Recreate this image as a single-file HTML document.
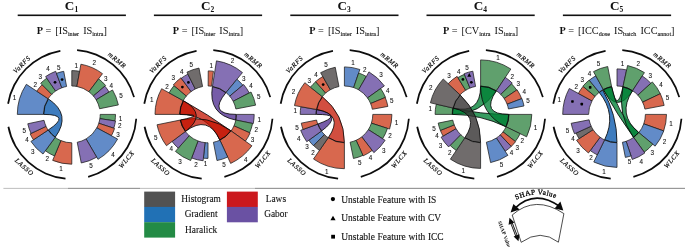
<!DOCTYPE html>
<html><head><meta charset="utf-8"><title>Figure</title>
<style>
html,body{margin:0;padding:0;background:#fff;}
body{width:685px;height:247px;overflow:hidden;}
svg{display:block;}
#w{will-change:transform;width:685px;height:247px;}
text{font-family:"Liberation Serif",serif;fill:#111;}
.n{font-family:"Liberation Sans",sans-serif;font-size:6.3px;text-anchor:middle;fill:#111;stroke:#111;stroke-width:0.08px;}
.g{font-style:italic;font-size:6.7px;letter-spacing:0.7px;text-anchor:middle;fill:#000;stroke:#000;stroke-width:0.16px;}
.t{font-weight:bold;font-size:13.2px;}
.e{font-size:10.3px;word-spacing:1.5px;}
.l{font-size:9.4px;text-anchor:middle;stroke:#111;stroke-width:0.1px;}
.u{font-size:9.45px;word-spacing:0.3px;stroke:#111;stroke-width:0.12px;}
</style></head><body><div id="w">
<svg width="685" height="247" viewBox="0 0 685 247">
<rect width="685" height="247" fill="#fff"/>
<g>
<text class="t" x="71.5" y="9.7" text-anchor="middle">C<tspan font-size="7.5" dy="1.8">1</tspan></text>
<rect x="17.7" y="14.5" width="108.2" height="1.6" fill="#111"/>
<text class="e" x="71.8" y="33.8" text-anchor="middle"><tspan font-weight="bold">P</tspan><tspan dx="-1.6"> </tspan>= [IS<tspan font-size="6.1" dy="1.7" stroke="#111" stroke-width="0.12">inter</tspan><tspan dy="-1.7" font-size="1">&#8203;</tspan> IS<tspan font-size="6.1" dy="1.7" stroke="#111" stroke-width="0.12">intra</tspan><tspan dy="-1.7" font-size="1">&#8203;</tspan>]</text>
<path d="M43.4 114.4L17.3 114.4A54.5 54.5 0 0 1 26.35 84.32L48.12 98.72A28.4 28.4 0 0 0 43.4 114.4Z" fill="#628bc8" stroke="#1c1c1c" stroke-width="0.75" stroke-linejoin="miter"/>
<path d="M48.12 98.72L36.78 91.22A42 42 0 0 1 42.1 84.7L51.72 94.32A28.4 28.4 0 0 0 48.12 98.72Z" fill="#d8684e" stroke="#1c1c1c" stroke-width="0.75" stroke-linejoin="miter"/>
<path d="M51.72 94.32L40.69 83.29A44 44 0 0 1 46.75 78.23L55.63 91.05A28.4 28.4 0 0 0 51.72 94.32Z" fill="#60a06d" stroke="#1c1c1c" stroke-width="0.75" stroke-linejoin="miter"/>
<path d="M55.63 91.05L45.61 76.58A46 46 0 0 1 55.69 71.31L61.85 87.8A28.4 28.4 0 0 0 55.63 91.05Z" fill="#8570b4" stroke="#1c1c1c" stroke-width="0.75" stroke-linejoin="miter"/>
<path d="M61.85 87.8L56.46 73.37A43.8 43.8 0 0 1 63.74 71.35L66.58 86.48A28.4 28.4 0 0 0 61.85 87.8Z" fill="#628bc8" stroke="#1c1c1c" stroke-width="0.75" stroke-linejoin="miter"/>
<path d="M71.8 86L71.8 70.6A43.8 43.8 0 0 1 79.63 71.31L76.88 86.46A28.4 28.4 0 0 0 71.8 86Z" fill="#706c6c" stroke="#1c1c1c" stroke-width="0.75" stroke-linejoin="miter"/>
<path d="M76.88 86.46L80.92 64.22A51 51 0 0 1 102.49 73.67L88.89 91.72A28.4 28.4 0 0 0 76.88 86.46Z" fill="#d8684e" stroke="#1c1c1c" stroke-width="0.75" stroke-linejoin="miter"/>
<path d="M88.89 91.72L98.58 78.86A44.5 44.5 0 0 1 105.64 85.5L93.4 95.96A28.4 28.4 0 0 0 88.89 91.72Z" fill="#60a06d" stroke="#1c1c1c" stroke-width="0.75" stroke-linejoin="miter"/>
<path d="M93.4 95.96L104.88 86.15A43.5 43.5 0 0 1 109.09 92L96.14 99.77A28.4 28.4 0 0 0 93.4 95.96Z" fill="#8570b4" stroke="#1c1c1c" stroke-width="0.75" stroke-linejoin="miter"/>
<path d="M96.14 99.77L112.52 89.94A47.5 47.5 0 0 1 118.35 104.93L99.63 108.74A28.4 28.4 0 0 0 96.14 99.77Z" fill="#60a06d" stroke="#1c1c1c" stroke-width="0.75" stroke-linejoin="miter"/>
<path d="M100.2 114.4L115.5 114.4A43.7 43.7 0 0 1 115.01 120.93L99.88 118.65A28.4 28.4 0 0 0 100.2 114.4Z" fill="#60a06d" stroke="#1c1c1c" stroke-width="0.75" stroke-linejoin="miter"/>
<path d="M99.88 118.65L115.5 121.01A44.2 44.2 0 0 1 113.79 128.21L98.78 123.27A28.4 28.4 0 0 0 99.88 118.65Z" fill="#8570b4" stroke="#1c1c1c" stroke-width="0.75" stroke-linejoin="miter"/>
<path d="M98.78 123.27L114.55 128.46A45 45 0 0 1 111.42 135.73L96.81 127.86A28.4 28.4 0 0 0 98.78 123.27Z" fill="#d8684e" stroke="#1c1c1c" stroke-width="0.75" stroke-linejoin="miter"/>
<path d="M96.81 127.86L117.58 139.05A52 52 0 0 1 97.96 159.34L86.09 138.95A28.4 28.4 0 0 0 96.81 127.86Z" fill="#628bc8" stroke="#1c1c1c" stroke-width="0.75" stroke-linejoin="miter"/>
<path d="M86.09 138.95L96.7 157.18A49.5 49.5 0 0 1 81.25 162.99L77.22 142.28A28.4 28.4 0 0 0 86.09 138.95Z" fill="#8570b4" stroke="#1c1c1c" stroke-width="0.75" stroke-linejoin="miter"/>
<path d="M71.8 142.8L71.8 164.2A49.8 49.8 0 0 1 52.66 160.38L60.89 140.62A28.4 28.4 0 0 0 71.8 142.8Z" fill="#d8684e" stroke="#1c1c1c" stroke-width="0.75" stroke-linejoin="miter"/>
<path d="M60.89 140.62L54.51 155.94A45 45 0 0 1 45.35 150.81L55.11 137.38A28.4 28.4 0 0 0 60.89 140.62Z" fill="#60a06d" stroke="#1c1c1c" stroke-width="0.75" stroke-linejoin="miter"/>
<path d="M55.11 137.38L43 154.04A49 49 0 0 1 30.94 141.44L48.12 130.08A28.4 28.4 0 0 0 55.11 137.38Z" fill="#628bc8" stroke="#1c1c1c" stroke-width="0.75" stroke-linejoin="miter"/>
<path d="M48.12 130.08L33.44 139.79A46 46 0 0 1 30.11 133.84L46.06 126.4A28.4 28.4 0 0 0 48.12 130.08Z" fill="#d8684e" stroke="#1c1c1c" stroke-width="0.75" stroke-linejoin="miter"/>
<path d="M46.06 126.4L31.02 133.42A45 45 0 0 1 27.78 123.76L44.02 120.3A28.4 28.4 0 0 0 46.06 126.4Z" fill="#8570b4" stroke="#1c1c1c" stroke-width="0.75" stroke-linejoin="miter"/>
<path d="M43.7 114.4A28.1 28.1 0 0 1 48.37 98.89Q71.8 114.4 55.28 137.13A28.1 28.1 0 0 1 48.37 129.91Q71.8 114.4 43.7 114.4Z" fill="#0e5bae" fill-opacity="0.8" stroke="#0a0a0a" stroke-width="0.85" stroke-linejoin="round"/>
<text class="n" x="14.63" y="99.64">1</text>
<text class="n" x="35.25" y="86.99">2</text>
<text class="n" x="40.27" y="79.08">3</text>
<text class="n" x="48.08" y="71.48">4</text>
<circle cx="55.03" cy="82.32" r="1.38" fill="#000"/>
<text class="n" x="58.66" y="69.64">5</text>
<circle cx="62.1" cy="79.53" r="1.38" fill="#000"/>
<text class="n" x="76.2" y="68.05">1</text>
<text class="n" x="94.34" y="65.37">2</text>
<text class="n" x="105.85" y="80.65">3</text>
<text class="n" x="111.32" y="88.4">4</text>
<text class="n" x="120.92" y="97.75">5</text>
<text class="n" x="120.56" y="120.52">1</text>
<text class="n" x="119.86" y="128.3">2</text>
<text class="n" x="117.92" y="136.67">3</text>
<text class="n" x="112.91" y="156.62">4</text>
<text class="n" x="91.05" y="168.05">5</text>
<text class="n" x="61.02" y="170.78">1</text>
<text class="n" x="47.23" y="160.63">2</text>
<text class="n" x="32.65" y="154.33">3</text>
<text class="n" x="27.13" y="141.87">4</text>
<text class="n" x="24.19" y="132.78">5</text>
<path d="M8.95 103.88L7.22 103.59A65.47 65.47 0 0 1 60.21 49.96L60.52 51.68A63.72 63.72 0 0 0 8.95 103.88Z" fill="#0d0d0d"/>
<path d="M77.02 50.89L77.16 49.15A65.47 65.47 0 0 1 134.89 96.9L133.21 97.37A63.72 63.72 0 0 0 77.02 50.89Z" fill="#0d0d0d"/>
<path d="M135.38 118.73L137.12 118.85A65.47 65.47 0 0 1 88.41 177.73L87.97 176.04A63.72 63.72 0 0 0 135.38 118.73Z" fill="#0d0d0d"/>
<path d="M65.58 177.82L65.41 179.56A65.47 65.47 0 0 1 7.53 126.89L9.25 126.56A63.72 63.72 0 0 0 65.58 177.82Z" fill="#0d0d0d"/>
<text class="g" transform="translate(21.55 64.67) rotate(314.7)" x="0.35" y="2.3">VaRFS</text>
<text class="g" transform="translate(116.87 59.92) rotate(399.6)" x="0.35" y="2.3">mRMR</text>
<text class="g" transform="translate(126.28 159.47) rotate(-50.4)" x="0.35" y="2.3">WLCX</text>
<text class="g" transform="translate(24.22 166.69) rotate(42.3)" x="0.35" y="2.3">LASSO</text>
</g>
<g>
<text class="t" x="207.7" y="9.7" text-anchor="middle">C<tspan font-size="7.5" dy="1.8">2</tspan></text>
<rect x="153.9" y="14.5" width="108.2" height="1.6" fill="#111"/>
<text class="e" x="208" y="33.8" text-anchor="middle"><tspan font-weight="bold">P</tspan><tspan dx="-1.6"> </tspan>= [IS<tspan font-size="6.1" dy="1.7" stroke="#111" stroke-width="0.12">inter</tspan><tspan dy="-1.7" font-size="1">&#8203;</tspan> IS<tspan font-size="6.1" dy="1.7" stroke="#111" stroke-width="0.12">intra</tspan><tspan dy="-1.7" font-size="1">&#8203;</tspan>]</text>
<path d="M179.6 114.4L155 114.4A53 53 0 0 1 161.65 88.71L183.16 100.63A28.4 28.4 0 0 0 179.6 114.4Z" fill="#d8684e" stroke="#1c1c1c" stroke-width="0.75" stroke-linejoin="miter"/>
<path d="M183.16 100.63L169.08 92.83A44.5 44.5 0 0 1 174.06 85.62L186.34 96.03A28.4 28.4 0 0 0 183.16 100.63Z" fill="#60a06d" stroke="#1c1c1c" stroke-width="0.75" stroke-linejoin="miter"/>
<path d="M186.34 96.03L173.3 84.97A45.5 45.5 0 0 1 180.94 77.82L191.11 91.57A28.4 28.4 0 0 0 186.34 96.03Z" fill="#d8684e" stroke="#1c1c1c" stroke-width="0.75" stroke-linejoin="miter"/>
<path d="M191.11 91.57L181.23 78.23A45 45 0 0 1 187.92 74.13L195.33 88.98A28.4 28.4 0 0 0 191.11 91.57Z" fill="#8570b4" stroke="#1c1c1c" stroke-width="0.75" stroke-linejoin="miter"/>
<path d="M195.33 88.98L186.94 72.16A47.2 47.2 0 0 1 198.99 68.07L202.58 86.52A28.4 28.4 0 0 0 195.33 88.98Z" fill="#706c6c" stroke="#1c1c1c" stroke-width="0.75" stroke-linejoin="miter"/>
<path d="M208.15 86L208.23 70.9A43.5 43.5 0 0 1 213.45 71.24L211.56 86.22A28.4 28.4 0 0 0 208.15 86Z" fill="#d8684e" stroke="#1c1c1c" stroke-width="0.75" stroke-linejoin="miter"/>
<path d="M212.44 86.35L216.48 60.87A54.2 54.2 0 0 1 242.48 72.58L226.06 92.49A28.4 28.4 0 0 0 212.44 86.35Z" fill="#8570b4" stroke="#1c1c1c" stroke-width="0.75" stroke-linejoin="miter"/>
<path d="M226.06 92.49L236.94 79.29A45.5 45.5 0 0 1 242.86 85.15L229.76 96.14A28.4 28.4 0 0 0 226.06 92.49Z" fill="#628bc8" stroke="#1c1c1c" stroke-width="0.75" stroke-linejoin="miter"/>
<path d="M229.76 96.14L243.62 84.51A46.5 46.5 0 0 1 249.25 92.93L233.19 101.29A28.4 28.4 0 0 0 229.76 96.14Z" fill="#8570b4" stroke="#1c1c1c" stroke-width="0.75" stroke-linejoin="miter"/>
<path d="M233.19 101.29L251.02 92.01A48.5 48.5 0 0 1 255.61 105.15L235.88 108.98A28.4 28.4 0 0 0 233.19 101.29Z" fill="#60a06d" stroke="#1c1c1c" stroke-width="0.75" stroke-linejoin="miter"/>
<path d="M236.4 114.4L254.2 114.4A46.2 46.2 0 0 1 253.27 123.61L235.83 120.06A28.4 28.4 0 0 0 236.4 114.4Z" fill="#8570b4" stroke="#1c1c1c" stroke-width="0.75" stroke-linejoin="miter"/>
<path d="M235.83 120.06L252.59 123.47A45.5 45.5 0 0 1 249.63 132.76L233.98 125.86A28.4 28.4 0 0 0 235.83 120.06Z" fill="#60a06d" stroke="#1c1c1c" stroke-width="0.75" stroke-linejoin="miter"/>
<path d="M233.98 125.86L250.09 132.96A46 46 0 0 1 245.4 141.18L231.09 130.93A28.4 28.4 0 0 0 233.98 125.86Z" fill="#d8684e" stroke="#1c1c1c" stroke-width="0.75" stroke-linejoin="miter"/>
<path d="M231.09 130.93L251.91 145.83A54 54 0 0 1 230.65 163.42L219.91 140.18A28.4 28.4 0 0 0 231.09 130.93Z" fill="#d8684e" stroke="#1c1c1c" stroke-width="0.75" stroke-linejoin="miter"/>
<path d="M219.91 140.18L227.71 157.07A47 47 0 0 1 216.97 160.54L213.42 142.28A28.4 28.4 0 0 0 219.91 140.18Z" fill="#628bc8" stroke="#1c1c1c" stroke-width="0.75" stroke-linejoin="miter"/>
<path d="M208 142.8L208 158.4A44 44 0 0 1 203.4 158.16L205.03 142.64A28.4 28.4 0 0 0 208 142.8Z" fill="#628bc8" stroke="#1c1c1c" stroke-width="0.75" stroke-linejoin="miter"/>
<path d="M205.03 142.64L203.13 160.74A46.6 46.6 0 0 1 191.6 158.02L198.01 140.98A28.4 28.4 0 0 0 205.03 142.64Z" fill="#8570b4" stroke="#1c1c1c" stroke-width="0.75" stroke-linejoin="miter"/>
<path d="M198.01 140.98L190.65 160.55A49.3 49.3 0 0 1 175.4 151.38L189.22 135.7A28.4 28.4 0 0 0 198.01 140.98Z" fill="#60a06d" stroke="#1c1c1c" stroke-width="0.75" stroke-linejoin="miter"/>
<path d="M189.22 135.7L178.24 148.15A45 45 0 0 1 172.06 141.48L185.32 131.49A28.4 28.4 0 0 0 189.22 135.7Z" fill="#8570b4" stroke="#1c1c1c" stroke-width="0.75" stroke-linejoin="miter"/>
<path d="M185.32 131.49L166.47 145.69A52 52 0 0 1 157.04 124.77L180.17 120.06A28.4 28.4 0 0 0 185.32 131.49Z" fill="#d8684e" stroke="#1c1c1c" stroke-width="0.75" stroke-linejoin="miter"/>
<path d="M212.4 86.65A28.1 28.1 0 0 1 225.87 92.72Q208 114.4 236.1 114.4A28.1 28.1 0 0 1 235.54 120Q208 114.4 212.4 86.65Z" fill="#543392" fill-opacity="0.8" stroke="#0a0a0a" stroke-width="0.85" stroke-linejoin="round"/>
<path d="M179.9 114.4A28.1 28.1 0 0 1 183.42 100.78Q208 114.4 230.85 130.76A28.1 28.1 0 0 1 219.79 139.91Q208 114.4 179.9 114.4Z" fill="#c31300" fill-opacity="0.75" stroke="#0a0a0a" stroke-width="0.85" stroke-linejoin="round"/>
<path d="M185.56 131.31A28.1 28.1 0 0 1 180.46 120Q208 114.4 230.85 130.76A28.1 28.1 0 0 1 219.79 139.91Q208 114.4 185.56 131.31Z" fill="#c31300" fill-opacity="0.75" stroke="#0a0a0a" stroke-width="0.85" stroke-linejoin="round"/>
<path d="M179.9 114.4A28.1 28.1 0 0 1 183.42 100.78Q208 114.4 185.56 131.31A28.1 28.1 0 0 1 180.46 120Q208 114.4 179.9 114.4Z" fill="#c31300" fill-opacity="0.75" stroke="#0a0a0a" stroke-width="0.85" stroke-linejoin="round"/>
<text class="n" x="151.65" y="102.28">1</text>
<text class="n" x="167.11" y="88.59">2</text>
<text class="n" x="173.36" y="79.83">3</text>
<circle cx="182.38" cy="87.02" r="1.38" fill="#000"/>
<text class="n" x="181.77" y="74.05">4</text>
<circle cx="188.41" cy="82.43" r="1.38" fill="#000"/>
<text class="n" x="191.16" y="67.23">5</text>
<text class="n" x="211.19" y="68.25">1</text>
<text class="n" x="232.4" y="62.69">2</text>
<text class="n" x="243.69" y="80.84">3</text>
<text class="n" x="250.99" y="88.13">4</text>
<text class="n" x="258.7" y="99.15">5</text>
<text class="n" x="259.14" y="122">1</text>
<text class="n" x="256.31" y="132.22">2</text>
<text class="n" x="252.47" y="142.22">3</text>
<text class="n" x="245.74" y="162.46">4</text>
<text class="n" x="224.04" y="166.52">5</text>
<text class="n" x="205.43" y="165.98">1</text>
<text class="n" x="196.08" y="167.26">2</text>
<text class="n" x="179.93" y="163.57">3</text>
<text class="n" x="171.17" y="150.96">4</text>
<text class="n" x="155.85" y="140.34">5</text>
<path d="M145.15 103.88L143.42 103.59A65.47 65.47 0 0 1 196.41 49.96L196.72 51.68A63.72 63.72 0 0 0 145.15 103.88Z" fill="#0d0d0d"/>
<path d="M213.22 50.89L213.36 49.15A65.47 65.47 0 0 1 271.09 96.9L269.41 97.37A63.72 63.72 0 0 0 213.22 50.89Z" fill="#0d0d0d"/>
<path d="M271.58 118.73L273.32 118.85A65.47 65.47 0 0 1 224.61 177.73L224.17 176.04A63.72 63.72 0 0 0 271.58 118.73Z" fill="#0d0d0d"/>
<path d="M201.78 177.82L201.61 179.56A65.47 65.47 0 0 1 143.73 126.89L145.45 126.56A63.72 63.72 0 0 0 201.78 177.82Z" fill="#0d0d0d"/>
<text class="g" transform="translate(157.75 64.67) rotate(314.7)" x="0.35" y="2.3">VaRFS</text>
<text class="g" transform="translate(253.07 59.92) rotate(399.6)" x="0.35" y="2.3">mRMR</text>
<text class="g" transform="translate(262.48 159.47) rotate(-50.4)" x="0.35" y="2.3">WLCX</text>
<text class="g" transform="translate(160.42 166.69) rotate(42.3)" x="0.35" y="2.3">LASSO</text>
</g>
<g>
<text class="t" x="344.1" y="9.7" text-anchor="middle">C<tspan font-size="7.5" dy="1.8">3</tspan></text>
<rect x="290.3" y="14.5" width="108.2" height="1.6" fill="#111"/>
<text class="e" x="344.4" y="33.8" text-anchor="middle"><tspan font-weight="bold">P</tspan><tspan dx="-1.6"> </tspan>= [IS<tspan font-size="6.1" dy="1.7" stroke="#111" stroke-width="0.12">inter</tspan><tspan dy="-1.7" font-size="1">&#8203;</tspan> IS<tspan font-size="6.1" dy="1.7" stroke="#111" stroke-width="0.12">intra</tspan><tspan dy="-1.7" font-size="1">&#8203;</tspan>]</text>
<path d="M316 114.4L300.2 114.4A44.2 44.2 0 0 1 300.87 106.72L316.43 109.47A28.4 28.4 0 0 0 316 114.4Z" fill="#8570b4" stroke="#1c1c1c" stroke-width="0.75" stroke-linejoin="miter"/>
<path d="M316.43 109.47L294.47 105.6A50.7 50.7 0 0 1 304.83 82.7L322.24 96.64A28.4 28.4 0 0 0 316.43 109.47Z" fill="#d8684e" stroke="#1c1c1c" stroke-width="0.75" stroke-linejoin="miter"/>
<path d="M322.24 96.64L310.45 87.2A43.5 43.5 0 0 1 315.69 81.72L325.66 93.06A28.4 28.4 0 0 0 322.24 96.64Z" fill="#60a06d" stroke="#1c1c1c" stroke-width="0.75" stroke-linejoin="miter"/>
<path d="M325.66 93.06L315.62 81.64A43.6 43.6 0 0 1 322.8 76.53L330.33 89.73A28.4 28.4 0 0 0 325.66 93.06Z" fill="#d8684e" stroke="#1c1c1c" stroke-width="0.75" stroke-linejoin="miter"/>
<path d="M330.33 89.73L320.62 72.71A48 48 0 0 1 335.24 67.28L338.98 86.52A28.4 28.4 0 0 0 330.33 89.73Z" fill="#706c6c" stroke="#1c1c1c" stroke-width="0.75" stroke-linejoin="miter"/>
<path d="M344.4 86L344.4 66.9A47.5 47.5 0 0 1 359.86 69.49L353.65 87.55A28.4 28.4 0 0 0 344.4 86Z" fill="#628bc8" stroke="#1c1c1c" stroke-width="0.75" stroke-linejoin="miter"/>
<path d="M353.65 87.55L358.66 72.99A43.8 43.8 0 0 1 366.3 76.47L358.6 89.8A28.4 28.4 0 0 0 353.65 87.55Z" fill="#60a06d" stroke="#1c1c1c" stroke-width="0.75" stroke-linejoin="miter"/>
<path d="M358.6 89.8L368.95 71.88A49.1 49.1 0 0 1 384.37 85.89L367.52 97.91A28.4 28.4 0 0 0 358.6 89.8Z" fill="#8570b4" stroke="#1c1c1c" stroke-width="0.75" stroke-linejoin="miter"/>
<path d="M367.52 97.91L380.63 88.56A44.5 44.5 0 0 1 385.51 97.37L370.64 103.53A28.4 28.4 0 0 0 367.52 97.91Z" fill="#60a06d" stroke="#1c1c1c" stroke-width="0.75" stroke-linejoin="miter"/>
<path d="M370.64 103.53L385.24 97.49A44.2 44.2 0 0 1 387.87 106.42L372.33 109.27A28.4 28.4 0 0 0 370.64 103.53Z" fill="#d8684e" stroke="#1c1c1c" stroke-width="0.75" stroke-linejoin="miter"/>
<path d="M372.8 114.4L391.9 114.4A47.5 47.5 0 0 1 389.58 129.08L371.41 123.18A28.4 28.4 0 0 0 372.8 114.4Z" fill="#d8684e" stroke="#1c1c1c" stroke-width="0.75" stroke-linejoin="miter"/>
<path d="M371.41 123.18L387.48 128.4A45.3 45.3 0 0 1 382.61 138.74L368.35 129.66A28.4 28.4 0 0 0 371.41 123.18Z" fill="#60a06d" stroke="#1c1c1c" stroke-width="0.75" stroke-linejoin="miter"/>
<path d="M368.35 129.66L385.14 140.35A48.3 48.3 0 0 1 373.87 152.67L361.73 136.9A28.4 28.4 0 0 0 368.35 129.66Z" fill="#8570b4" stroke="#1c1c1c" stroke-width="0.75" stroke-linejoin="miter"/>
<path d="M361.73 136.9L372.16 150.45A45.5 45.5 0 0 1 363.12 155.87L356.09 140.28A28.4 28.4 0 0 0 361.73 136.9Z" fill="#d8684e" stroke="#1c1c1c" stroke-width="0.75" stroke-linejoin="miter"/>
<path d="M356.09 140.28L362.92 155.41A45 45 0 0 1 353.45 158.48L350.11 142.22A28.4 28.4 0 0 0 356.09 140.28Z" fill="#60a06d" stroke="#1c1c1c" stroke-width="0.75" stroke-linejoin="miter"/>
<path d="M344.4 142.8L344.4 168.7A54.3 54.3 0 0 1 313.49 159.04L328.23 137.75A28.4 28.4 0 0 0 344.4 142.8Z" fill="#d8684e" stroke="#1c1c1c" stroke-width="0.75" stroke-linejoin="miter"/>
<path d="M328.23 137.75L319.47 150.41A43.8 43.8 0 0 1 313.59 145.53L324.42 134.59A28.4 28.4 0 0 0 328.23 137.75Z" fill="#706c6c" stroke="#1c1c1c" stroke-width="0.75" stroke-linejoin="miter"/>
<path d="M324.42 134.59L313.45 145.68A44 44 0 0 1 308.8 140.26L321.42 131.09A28.4 28.4 0 0 0 324.42 134.59Z" fill="#628bc8" stroke="#1c1c1c" stroke-width="0.75" stroke-linejoin="miter"/>
<path d="M321.42 131.09L306.78 141.73A46.5 46.5 0 0 1 300.7 130.3L317.71 124.11A28.4 28.4 0 0 0 321.42 131.09Z" fill="#8570b4" stroke="#1c1c1c" stroke-width="0.75" stroke-linejoin="miter"/>
<path d="M317.71 124.11L303.05 129.45A44 44 0 0 1 301.28 123.17L316.57 120.06A28.4 28.4 0 0 0 317.71 124.11Z" fill="#d8684e" stroke="#1c1c1c" stroke-width="0.75" stroke-linejoin="miter"/>
<path d="M316.3 114.4A28.1 28.1 0 0 1 316.73 109.52Q344.4 114.4 321.67 130.92A28.1 28.1 0 0 1 317.99 124.01Q344.4 114.4 316.3 114.4Z" fill="#543392" fill-opacity="0.8" stroke="#0a0a0a" stroke-width="0.85" stroke-linejoin="round"/>
<path d="M316.73 109.52A28.1 28.1 0 0 1 322.47 96.83Q344.4 114.4 344.4 142.5A28.1 28.1 0 0 1 328.4 137.5Q344.4 114.4 316.73 109.52Z" fill="#c31300" fill-opacity="0.75" stroke="#0a0a0a" stroke-width="0.85" stroke-linejoin="round"/>
<text class="n" x="295.19" y="112.54">1</text>
<text class="n" x="293.47" y="93.8">2</text>
<text class="n" x="309.19" y="83.2">3</text>
<text class="n" x="316.06" y="77.12">4</text>
<circle cx="323.15" cy="84.6" r="1.38" fill="#000"/>
<text class="n" x="325.9" y="66.97">5</text>
<text class="n" x="353.1" y="64.87">1</text>
<text class="n" x="364.72" y="72.26">2</text>
<text class="n" x="380.91" y="76.66">3</text>
<text class="n" x="387.87" y="92.75">4</text>
<text class="n" x="391.78" y="102.86">5</text>
<text class="n" x="396.45" y="125.09">1</text>
<text class="n" x="390.07" y="138.39">2</text>
<text class="n" x="383.88" y="152.96">3</text>
<text class="n" x="370.47" y="160.33">4</text>
<text class="n" x="359.87" y="164.61">5</text>
<text class="n" x="326.66" y="173.64">1</text>
<text class="n" x="313.1" y="154.55">2</text>
<text class="n" x="307.07" y="148.9">3</text>
<text class="n" x="298.75" y="141.12">4</text>
<text class="n" x="297.05" y="130.2">5</text>
<path d="M281.55 103.88L279.82 103.59A65.47 65.47 0 0 1 332.81 49.96L333.12 51.68A63.72 63.72 0 0 0 281.55 103.88Z" fill="#0d0d0d"/>
<path d="M349.62 50.89L349.76 49.15A65.47 65.47 0 0 1 407.49 96.9L405.81 97.37A63.72 63.72 0 0 0 349.62 50.89Z" fill="#0d0d0d"/>
<path d="M407.98 118.73L409.72 118.85A65.47 65.47 0 0 1 361.01 177.73L360.57 176.04A63.72 63.72 0 0 0 407.98 118.73Z" fill="#0d0d0d"/>
<path d="M338.18 177.82L338.01 179.56A65.47 65.47 0 0 1 280.13 126.89L281.85 126.56A63.72 63.72 0 0 0 338.18 177.82Z" fill="#0d0d0d"/>
<text class="g" transform="translate(294.15 64.67) rotate(314.7)" x="0.35" y="2.3">VaRFS</text>
<text class="g" transform="translate(389.47 59.92) rotate(399.6)" x="0.35" y="2.3">mRMR</text>
<text class="g" transform="translate(398.88 159.47) rotate(-50.4)" x="0.35" y="2.3">WLCX</text>
<text class="g" transform="translate(296.82 166.69) rotate(42.3)" x="0.35" y="2.3">LASSO</text>
</g>
<g>
<text class="t" x="480.3" y="9.7" text-anchor="middle">C<tspan font-size="7.5" dy="1.8">4</tspan></text>
<rect x="426.5" y="14.5" width="108.2" height="1.6" fill="#111"/>
<text class="e" x="480.6" y="33.8" text-anchor="middle"><tspan font-weight="bold">P</tspan><tspan dx="-1.6"> </tspan>= [CV<tspan font-size="6.1" dy="1.7" stroke="#111" stroke-width="0.12">intra</tspan><tspan dy="-1.7" font-size="1">&#8203;</tspan> IS<tspan font-size="6.1" dy="1.7" stroke="#111" stroke-width="0.12">intra</tspan><tspan dy="-1.7" font-size="1">&#8203;</tspan>]</text>
<path d="M452.2 114.4L435.1 114.4A45.5 45.5 0 0 1 436.27 104.16L452.93 108.01A28.4 28.4 0 0 0 452.2 114.4Z" fill="#60a06d" stroke="#1c1c1c" stroke-width="0.75" stroke-linejoin="miter"/>
<path d="M452.93 108.01L430.42 102.82A51.5 51.5 0 0 1 443.24 78.95L460 94.85A28.4 28.4 0 0 0 452.93 108.01Z" fill="#706c6c" stroke="#1c1c1c" stroke-width="0.75" stroke-linejoin="miter"/>
<path d="M460 94.85L448.18 83.63A44.7 44.7 0 0 1 457.11 76.37L465.68 90.24A28.4 28.4 0 0 0 460 94.85Z" fill="#d8684e" stroke="#1c1c1c" stroke-width="0.75" stroke-linejoin="miter"/>
<path d="M465.68 90.24L457.9 77.64A43.2 43.2 0 0 1 464.42 74.35L469.96 88.07A28.4 28.4 0 0 0 465.68 90.24Z" fill="#60a06d" stroke="#1c1c1c" stroke-width="0.75" stroke-linejoin="miter"/>
<path d="M469.96 88.07L464.15 73.7A43.9 43.9 0 0 1 472.83 71.19L475.57 86.45A28.4 28.4 0 0 0 469.96 88.07Z" fill="#8570b4" stroke="#1c1c1c" stroke-width="0.75" stroke-linejoin="miter"/>
<path d="M480.6 86L480.6 59.9A54.5 54.5 0 0 1 510.84 69.06L496.36 90.77A28.4 28.4 0 0 0 480.6 86Z" fill="#60a06d" stroke="#1c1c1c" stroke-width="0.75" stroke-linejoin="miter"/>
<path d="M496.36 90.77L505.29 77.38A44.5 44.5 0 0 1 512.29 83.15L500.82 94.46A28.4 28.4 0 0 0 496.36 90.77Z" fill="#8570b4" stroke="#1c1c1c" stroke-width="0.75" stroke-linejoin="miter"/>
<path d="M500.82 94.46L511.57 83.86A43.5 43.5 0 0 1 516.66 90.08L504.14 98.52A28.4 28.4 0 0 0 500.82 94.46Z" fill="#60a06d" stroke="#1c1c1c" stroke-width="0.75" stroke-linejoin="miter"/>
<path d="M504.14 98.52L517.08 89.8A44 44 0 0 1 521.68 98.63L507.11 104.22A28.4 28.4 0 0 0 504.14 98.52Z" fill="#d8684e" stroke="#1c1c1c" stroke-width="0.75" stroke-linejoin="miter"/>
<path d="M507.11 104.22L521.86 98.56A44.2 44.2 0 0 1 523.99 105.97L508.48 108.98A28.4 28.4 0 0 0 507.11 104.22Z" fill="#628bc8" stroke="#1c1c1c" stroke-width="0.75" stroke-linejoin="miter"/>
<path d="M509 114.4L531.8 114.4A51.2 51.2 0 0 1 526.62 136.84L506.13 126.85A28.4 28.4 0 0 0 509 114.4Z" fill="#60a06d" stroke="#1c1c1c" stroke-width="0.75" stroke-linejoin="miter"/>
<path d="M506.13 126.85L520.15 133.69A44 44 0 0 1 515.27 141.49L502.98 131.88A28.4 28.4 0 0 0 506.13 126.85Z" fill="#60a06d" stroke="#1c1c1c" stroke-width="0.75" stroke-linejoin="miter"/>
<path d="M502.98 131.88L515.51 141.67A44.3 44.3 0 0 1 511.21 146.43L500.22 134.93A28.4 28.4 0 0 0 502.98 131.88Z" fill="#d8684e" stroke="#1c1c1c" stroke-width="0.75" stroke-linejoin="miter"/>
<path d="M500.22 134.93L511.21 146.43A44.3 44.3 0 0 1 505.18 151.26L496.36 138.03A28.4 28.4 0 0 0 500.22 134.93Z" fill="#8570b4" stroke="#1c1c1c" stroke-width="0.75" stroke-linejoin="miter"/>
<path d="M496.36 138.03L507.9 155.33A49.2 49.2 0 0 1 490.58 162.58L486.36 142.21A28.4 28.4 0 0 0 496.36 138.03Z" fill="#628bc8" stroke="#1c1c1c" stroke-width="0.75" stroke-linejoin="miter"/>
<path d="M480.6 142.8L480.6 168.4A54 54 0 0 1 450.4 159.17L464.72 137.94A28.4 28.4 0 0 0 480.6 142.8Z" fill="#706c6c" stroke="#1c1c1c" stroke-width="0.75" stroke-linejoin="miter"/>
<path d="M464.72 137.94L456.28 150.46A43.5 43.5 0 0 1 450.11 145.43L460.69 134.66A28.4 28.4 0 0 0 464.72 137.94Z" fill="#60a06d" stroke="#1c1c1c" stroke-width="0.75" stroke-linejoin="miter"/>
<path d="M460.69 134.66L448.64 146.92A45.6 45.6 0 0 1 441.11 137.2L456 128.6A28.4 28.4 0 0 0 460.69 134.66Z" fill="#8570b4" stroke="#1c1c1c" stroke-width="0.75" stroke-linejoin="miter"/>
<path d="M456 128.6L443.1 136.05A43.3 43.3 0 0 1 440.37 130.41L454.21 124.9A28.4 28.4 0 0 0 456 128.6Z" fill="#d8684e" stroke="#1c1c1c" stroke-width="0.75" stroke-linejoin="miter"/>
<path d="M454.21 124.9L440.37 130.41A43.3 43.3 0 0 1 438.18 123.11L452.78 120.11A28.4 28.4 0 0 0 454.21 124.9Z" fill="#60a06d" stroke="#1c1c1c" stroke-width="0.75" stroke-linejoin="miter"/>
<path d="M452.5 114.4A28.1 28.1 0 0 1 453.22 108.08Q480.6 114.4 480.6 86.3A28.1 28.1 0 0 1 496.19 91.02Q480.6 114.4 452.5 114.4Z" fill="#008034" fill-opacity="0.78" stroke="#0a0a0a" stroke-width="0.85" stroke-linejoin="round"/>
<path d="M452.5 114.4A28.1 28.1 0 0 1 453.22 108.08Q480.6 114.4 508.7 114.4A28.1 28.1 0 0 1 505.86 126.72Q480.6 114.4 452.5 114.4Z" fill="#008034" fill-opacity="0.78" stroke="#0a0a0a" stroke-width="0.85" stroke-linejoin="round"/>
<path d="M480.6 86.3A28.1 28.1 0 0 1 496.19 91.02Q480.6 114.4 508.7 114.4A28.1 28.1 0 0 1 505.86 126.72Q480.6 114.4 480.6 86.3Z" fill="#008034" fill-opacity="0.78" stroke="#0a0a0a" stroke-width="0.85" stroke-linejoin="round"/>
<path d="M453.22 108.08A28.1 28.1 0 0 1 460.22 95.06Q480.6 114.4 480.6 142.5A28.1 28.1 0 0 1 464.89 137.7Q480.6 114.4 453.22 108.08Z" fill="#333131" fill-opacity="0.8" stroke="#0a0a0a" stroke-width="0.85" stroke-linejoin="round"/>
<text class="n" x="430.23" y="111.11">1</text>
<text class="n" x="430.65" y="90.01">2</text>
<text class="n" x="449.13" y="78.13">3</text>
<text class="n" x="458.74" y="73.67">4</text>
<circle cx="462.9" cy="79.43" r="1.38" fill="#000"/>
<text class="n" x="466.98" y="69.68">5</text>
<path d="M469.26 73L471.26 76.7L467.26 76.7Z" fill="#000"/>
<circle cx="471.34" cy="82.31" r="1.38" fill="#000"/>
<text class="n" x="497.91" y="59.71">1</text>
<text class="n" x="512.25" y="78.53">2</text>
<text class="n" x="518.29" y="86">3</text>
<text class="n" x="524.24" y="94.13">4</text>
<text class="n" x="528.09" y="103.23">5</text>
<text class="n" x="535.55" y="129.54">1</text>
<text class="n" x="522.32" y="142.92">2</text>
<text class="n" x="517.3" y="150.07">3</text>
<text class="n" x="511.55" y="155.48">4</text>
<text class="n" x="501.59" y="167.04">5</text>
<text class="n" x="463.29" y="173.46">1</text>
<text class="n" x="449.79" y="154.56">2</text>
<text class="n" x="440.43" y="147.95">3</text>
<text class="n" x="436.95" y="138">4</text>
<text class="n" x="434.13" y="130.75">5</text>
<path d="M417.75 103.88L416.02 103.59A65.47 65.47 0 0 1 469.01 49.96L469.32 51.68A63.72 63.72 0 0 0 417.75 103.88Z" fill="#0d0d0d"/>
<path d="M485.82 50.89L485.96 49.15A65.47 65.47 0 0 1 543.69 96.9L542.01 97.37A63.72 63.72 0 0 0 485.82 50.89Z" fill="#0d0d0d"/>
<path d="M544.18 118.73L545.92 118.85A65.47 65.47 0 0 1 497.21 177.73L496.77 176.04A63.72 63.72 0 0 0 544.18 118.73Z" fill="#0d0d0d"/>
<path d="M474.38 177.82L474.21 179.56A65.47 65.47 0 0 1 416.33 126.89L418.05 126.56A63.72 63.72 0 0 0 474.38 177.82Z" fill="#0d0d0d"/>
<text class="g" transform="translate(430.35 64.67) rotate(314.7)" x="0.35" y="2.3">VaRFS</text>
<text class="g" transform="translate(525.67 59.92) rotate(399.6)" x="0.35" y="2.3">mRMR</text>
<text class="g" transform="translate(535.08 159.47) rotate(-50.4)" x="0.35" y="2.3">WLCX</text>
<text class="g" transform="translate(433.02 166.69) rotate(42.3)" x="0.35" y="2.3">LASSO</text>
</g>
<g>
<text class="t" x="616.7" y="9.7" text-anchor="middle">C<tspan font-size="7.5" dy="1.8">5</tspan></text>
<rect x="562.9" y="14.5" width="108.2" height="1.6" fill="#111"/>
<text class="e" x="617" y="33.8" text-anchor="middle"><tspan font-weight="bold">P</tspan><tspan dx="-1.6"> </tspan>= [ICC<tspan font-size="6.1" dy="1.7" stroke="#111" stroke-width="0.12">dose</tspan><tspan dy="-1.7" font-size="1">&#8203;</tspan> IS<tspan font-size="6.1" dy="1.7" stroke="#111" stroke-width="0.12">batch</tspan><tspan dy="-1.7" font-size="1">&#8203;</tspan> ICC<tspan font-size="6.1" dy="1.7" stroke="#111" stroke-width="0.12">annot</tspan><tspan dy="-1.7" font-size="1">&#8203;</tspan>]</text>
<path d="M588.6 114.4L562.7 114.4A54.3 54.3 0 0 1 569.28 88.49L592.04 100.85A28.4 28.4 0 0 0 588.6 114.4Z" fill="#8570b4" stroke="#1c1c1c" stroke-width="0.75" stroke-linejoin="miter"/>
<path d="M592.04 100.85L578.33 93.41A44 44 0 0 1 583.05 86.41L595.09 96.34A28.4 28.4 0 0 0 592.04 100.85Z" fill="#d8684e" stroke="#1c1c1c" stroke-width="0.75" stroke-linejoin="miter"/>
<path d="M595.09 96.34L582.89 86.29A44.2 44.2 0 0 1 589.18 80.05L599.13 92.33A28.4 28.4 0 0 0 595.09 96.34Z" fill="#60a06d" stroke="#1c1c1c" stroke-width="0.75" stroke-linejoin="miter"/>
<path d="M599.13 92.33L589.31 80.21A44 44 0 0 1 595.8 75.84L603.32 89.51A28.4 28.4 0 0 0 599.13 92.33Z" fill="#628bc8" stroke="#1c1c1c" stroke-width="0.75" stroke-linejoin="miter"/>
<path d="M603.32 89.51L593.49 71.64A48.8 48.8 0 0 1 607.69 66.5L611.58 86.52A28.4 28.4 0 0 0 603.32 89.51Z" fill="#60a06d" stroke="#1c1c1c" stroke-width="0.75" stroke-linejoin="miter"/>
<path d="M617 86L617 68.9A45.5 45.5 0 0 1 626.62 69.93L623 86.64A28.4 28.4 0 0 0 617 86Z" fill="#8570b4" stroke="#1c1c1c" stroke-width="0.75" stroke-linejoin="miter"/>
<path d="M623 86.64L627.57 65.53A50 50 0 0 1 644.45 72.61L632.59 90.66A28.4 28.4 0 0 0 623 86.64Z" fill="#60a06d" stroke="#1c1c1c" stroke-width="0.75" stroke-linejoin="miter"/>
<path d="M632.59 90.66L642.26 75.95A46 46 0 0 1 650.86 83.26L637.91 95.18A28.4 28.4 0 0 0 632.59 90.66Z" fill="#8570b4" stroke="#1c1c1c" stroke-width="0.75" stroke-linejoin="miter"/>
<path d="M637.91 95.18L652.33 81.91A48 48 0 0 1 660.32 93.74L642.63 102.17A28.4 28.4 0 0 0 637.91 95.18Z" fill="#60a06d" stroke="#1c1c1c" stroke-width="0.75" stroke-linejoin="miter"/>
<path d="M642.63 102.17L660.32 93.74A48 48 0 0 1 664.15 105.41L644.9 109.08A28.4 28.4 0 0 0 642.63 102.17Z" fill="#d8684e" stroke="#1c1c1c" stroke-width="0.75" stroke-linejoin="miter"/>
<path d="M645.4 114.4L666.5 114.4A49.5 49.5 0 0 1 663.66 130.92L643.77 123.88A28.4 28.4 0 0 0 645.4 114.4Z" fill="#d8684e" stroke="#1c1c1c" stroke-width="0.75" stroke-linejoin="miter"/>
<path d="M643.77 123.88L663.76 130.96A49.6 49.6 0 0 1 655.11 146.15L638.82 132.58A28.4 28.4 0 0 0 643.77 123.88Z" fill="#628bc8" stroke="#1c1c1c" stroke-width="0.75" stroke-linejoin="miter"/>
<path d="M638.82 132.58L652.8 144.23A46.6 46.6 0 0 1 644.26 152.2L633.61 137.43A28.4 28.4 0 0 0 638.82 132.58Z" fill="#60a06d" stroke="#1c1c1c" stroke-width="0.75" stroke-linejoin="miter"/>
<path d="M633.61 137.43L644.84 153.01A47.6 47.6 0 0 1 632.26 159.49L626.11 141.3A28.4 28.4 0 0 0 633.61 137.43Z" fill="#8570b4" stroke="#1c1c1c" stroke-width="0.75" stroke-linejoin="miter"/>
<path d="M626.11 141.3L631.04 155.89A43.8 43.8 0 0 1 625.36 157.4L622.42 142.28A28.4 28.4 0 0 0 626.11 141.3Z" fill="#628bc8" stroke="#1c1c1c" stroke-width="0.75" stroke-linejoin="miter"/>
<path d="M617 142.8L617 167.4A53 53 0 0 1 593.77 162.04L604.55 139.93A28.4 28.4 0 0 0 617 142.8Z" fill="#628bc8" stroke="#1c1c1c" stroke-width="0.75" stroke-linejoin="miter"/>
<path d="M604.55 139.93L597.27 154.85A45 45 0 0 1 590.23 150.57L600.11 137.23A28.4 28.4 0 0 0 604.55 139.93Z" fill="#8570b4" stroke="#1c1c1c" stroke-width="0.75" stroke-linejoin="miter"/>
<path d="M600.11 137.23L588.45 152.99A48 48 0 0 1 576.56 140.26L593.07 129.7A28.4 28.4 0 0 0 600.11 137.23Z" fill="#d8684e" stroke="#1c1c1c" stroke-width="0.75" stroke-linejoin="miter"/>
<path d="M593.07 129.7L579.09 138.64A45 45 0 0 1 576.05 133.06L591.16 126.18A28.4 28.4 0 0 0 593.07 129.7Z" fill="#706c6c" stroke="#1c1c1c" stroke-width="0.75" stroke-linejoin="miter"/>
<path d="M591.16 126.18L574.5 133.77A46.7 46.7 0 0 1 571.16 123.31L589.12 119.82A28.4 28.4 0 0 0 591.16 126.18Z" fill="#8570b4" stroke="#1c1c1c" stroke-width="0.75" stroke-linejoin="miter"/>
<path d="M599.32 92.56A28.1 28.1 0 0 1 602.78 90.16Q617 114.4 617 142.5A28.1 28.1 0 0 1 604.68 139.66Q617 114.4 599.32 92.56Z" fill="#0e5bae" fill-opacity="0.8" stroke="#0a0a0a" stroke-width="0.85" stroke-linejoin="round"/>
<path d="M603.46 89.78A28.1 28.1 0 0 1 611.64 86.82Q617 114.4 622.94 86.93A28.1 28.1 0 0 1 632.43 90.91Q617 114.4 603.46 89.78Z" fill="#008034" fill-opacity="0.78" stroke="#0a0a0a" stroke-width="0.85" stroke-linejoin="round"/>
<path d="M603.46 89.78A28.1 28.1 0 0 1 611.64 86.82Q617 114.4 638.59 132.39A28.1 28.1 0 0 1 633.44 137.19Q617 114.4 603.46 89.78Z" fill="#008034" fill-opacity="0.78" stroke="#0a0a0a" stroke-width="0.85" stroke-linejoin="round"/>
<path d="M622.94 86.93A28.1 28.1 0 0 1 632.43 90.91Q617 114.4 638.59 132.39A28.1 28.1 0 0 1 633.44 137.19Q617 114.4 622.94 86.93Z" fill="#008034" fill-opacity="0.78" stroke="#0a0a0a" stroke-width="0.85" stroke-linejoin="round"/>
<text class="n" x="559.33" y="102.2">1</text>
<rect x="571.14" y="100.15" width="2.6" height="2.6" rx="0.7" fill="#000"/>
<rect x="580.46" y="102.86" width="2.6" height="2.6" rx="0.7" fill="#000"/>
<text class="n" x="576.21" y="89.34">2</text>
<text class="n" x="582.22" y="81.77">3</text>
<rect x="588.88" y="86.04" width="2.6" height="2.6" rx="0.7" fill="#000"/>
<text class="n" x="589.56" y="76.01">4</text>
<text class="n" x="598.62" y="66.07">5</text>
<text class="n" x="622.39" y="66.44">1</text>
<text class="n" x="638.35" y="65.94">2</text>
<text class="n" x="650.15" y="77.83">3</text>
<text class="n" x="661.08" y="87.06">4</text>
<text class="n" x="667.55" y="100.28">5</text>
<text class="n" x="670.91" y="126.11">1</text>
<text class="n" x="664.62" y="143.96">2</text>
<text class="n" x="652.33" y="154.73">3</text>
<text class="n" x="641.18" y="163.79">4</text>
<text class="n" x="629.56" y="164.21">5</text>
<text class="n" x="603.91" y="173.56">1</text>
<text class="n" x="590.96" y="159.77">2</text>
<text class="n" x="578.12" y="153.17">3</text>
<text class="n" x="572.9" y="140.84">4</text>
<text class="n" x="567.57" y="132.67">5</text>
<path d="M554.15 103.88L552.42 103.59A65.47 65.47 0 0 1 605.41 49.96L605.72 51.68A63.72 63.72 0 0 0 554.15 103.88Z" fill="#0d0d0d"/>
<path d="M622.22 50.89L622.36 49.15A65.47 65.47 0 0 1 680.09 96.9L678.41 97.37A63.72 63.72 0 0 0 622.22 50.89Z" fill="#0d0d0d"/>
<path d="M680.58 118.73L682.32 118.85A65.47 65.47 0 0 1 633.61 177.73L633.17 176.04A63.72 63.72 0 0 0 680.58 118.73Z" fill="#0d0d0d"/>
<path d="M610.78 177.82L610.61 179.56A65.47 65.47 0 0 1 552.73 126.89L554.45 126.56A63.72 63.72 0 0 0 610.78 177.82Z" fill="#0d0d0d"/>
<text class="g" transform="translate(566.75 64.67) rotate(314.7)" x="0.35" y="2.3">VaRFS</text>
<text class="g" transform="translate(662.07 59.92) rotate(399.6)" x="0.35" y="2.3">mRMR</text>
<text class="g" transform="translate(671.48 159.47) rotate(-50.4)" x="0.35" y="2.3">WLCX</text>
<text class="g" transform="translate(569.42 166.69) rotate(42.3)" x="0.35" y="2.3">LASSO</text>
</g>
<rect x="3.4" y="187.9" width="681.6" height="0.8" fill="#adadad"/>
<rect x="68" y="187.9" width="72" height="0.8" fill="#858585"/>
<rect x="255" y="187.9" width="430" height="0.8" fill="#858585"/>
<rect x="144.2" y="191.6" width="30.9" height="15.4" fill="#525252"/>
<rect x="144.2" y="206.9" width="30.9" height="15.4" fill="#2171b5"/>
<rect x="144.2" y="222.2" width="30.9" height="15.4" fill="#238b45"/>
<rect x="226.9" y="191.6" width="30.9" height="15.4" fill="#cb181d"/>
<rect x="226.9" y="206.9" width="30.9" height="15.4" fill="#6a51a3"/>
<text class="l" x="201.1" y="201.5">Histogram</text>
<text class="l" x="201.1" y="217">Gradient</text>
<text class="l" x="201.1" y="232.6">Haralick</text>
<text class="l" x="275.9" y="201.5">Laws</text>
<text class="l" x="275.9" y="217">Gabor</text>
<circle cx="332.9" cy="199.1" r="2.15" fill="#000"/>
<path d="M333 215.7L335.6 220.3L330.4 220.3Z" fill="#000"/>
<rect x="331.2" y="234.8" width="3.8" height="3.8" fill="#000"/>
<text class="u" x="341.3" y="202.5">Unstable Feature with IS</text>
<text class="u" x="341.3" y="221">Unstable Feature with CV</text>
<text class="u" x="341.3" y="239.6">Unstable Feature with ICC</text>
<g id="shap">
<path d="M512.2 215.0Q535.4 194.6 563.9 213.6L558.4 242.2Q540.5 228.4 521.2 242.3Z" fill="#fff" stroke="#111" stroke-width="0.75" stroke-linejoin="miter"/>
<path id="toparc" d="M514.6 208.6Q534.8 188.6 560.2 206.8" fill="none" stroke="#0a0a0a" stroke-width="1.8"/>
<path d="M510.6 212.6L513.4 204.0L519.6 209.6Z" fill="#0a0a0a"/>
<path d="M563.3 210.4L554.6 208.6L560.4 201.6Z" fill="#0a0a0a"/>
<path id="txtarc" d="M512.5 202.2Q535 187.6 560 200.2" fill="none" stroke="none"/>
<text font-size="7.2" letter-spacing="0.5" stroke="#000" stroke-width="0.3" fill="#000"><textPath href="#txtarc" startOffset="50%" text-anchor="middle">SHAP Value</textPath></text>
<path d="M511.0 221.8L517.0 237.2" fill="none" stroke="#0a0a0a" stroke-width="2.4"/>
<path d="M511.6 223.3L516.4 235.7" fill="none" stroke="#fff" stroke-width="0.7"/>
<path d="M509.5 217.8L514.4 222.6L508.6 224.8Z" fill="#0a0a0a"/>
<path d="M518.5 241.2L513.6 236.4L519.4 234.2Z" fill="#0a0a0a"/>
<text font-size="5.3" font-weight="bold" letter-spacing="0.15" transform="translate(497.7 221.7) rotate(69)" x="0" y="0">SHAP Value</text>
</g>
</svg>
</div></body></html>
